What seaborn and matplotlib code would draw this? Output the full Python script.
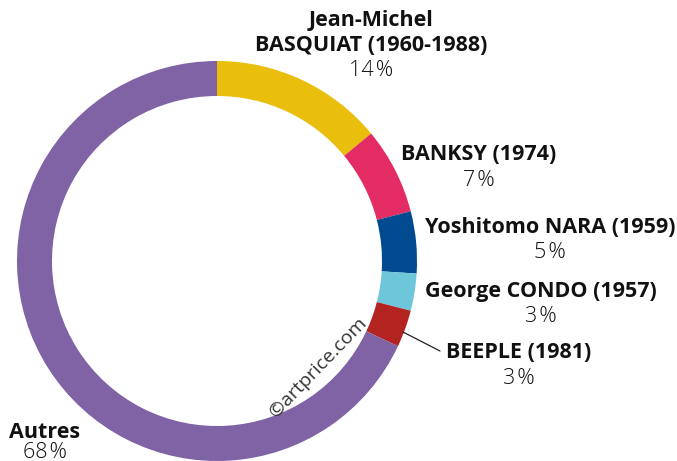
import matplotlib
matplotlib.use("Agg")
import matplotlib.pyplot as plt
import seaborn as sns

# data
artists = ["Jean-Michel\nBASQUIAT (1960-1988)", "BANKSY (1974)", "Yoshitomo NARA (1959)",
           "George CONDO (1957)", "BEEPLE (1981)", "Autres"]
shares = [14, 7, 5, 3, 3, 68]
colors = ["#E9BE0C", "#E22C63", "#004A90", "#6DC6DA", "#B32320", "#7F63A5"]

sns.set_theme(style="white")
plt.rcParams['font.family'] = ['Open Sans', 'DejaVu Sans']

W, H = 677, 461
fig = plt.figure(figsize=(W / 100, H / 100), dpi=100)
ax = fig.add_axes([0, 0, 1, 1])

cx, cy, r = 217, H - 261, 200
ax.pie(shares, colors=colors, startangle=90, counterclock=False,
       center=(cx, cy), radius=r,
       wedgeprops=dict(width=35, edgecolor="none", linewidth=0))
ax.set_xlim(0, W)
ax.set_ylim(0, H)
ax.set_aspect("equal")
ax.axis("off")

# label positions in pixel coords (x centre, y of name line)
label_pos = [(371, 33), (479, 155), (550, 228), (541, 291), (519, 353), (45, 432)]
for name, val, (lx, ly) in zip(artists, shares, label_pos):
    n_lines = name.count("\n")
    ax.text(lx, H - ly, name, ha="center", va="center", fontsize=15.5,
            fontweight="bold", color="#111111", linespacing=1.2)
    py = ly + 13 * n_lines + 25
    if py > 452:
        py = 452
    ax.text(lx, H - py, f"{val}\u200a%", ha="center", va="center", fontsize=15.5,
            fontweight="light", color="#111111")

# leader line for BEEPLE
ax.plot([403, 440], [H - 332, H - 351], color="#222222", lw=0.9)

# watermark
ax.text(318, H - 367, "©artprice.com", rotation=46, ha="center", va="center",
        fontsize=14, color="#333333", rotation_mode="anchor")

fig.savefig("out.png", dpi=100)
